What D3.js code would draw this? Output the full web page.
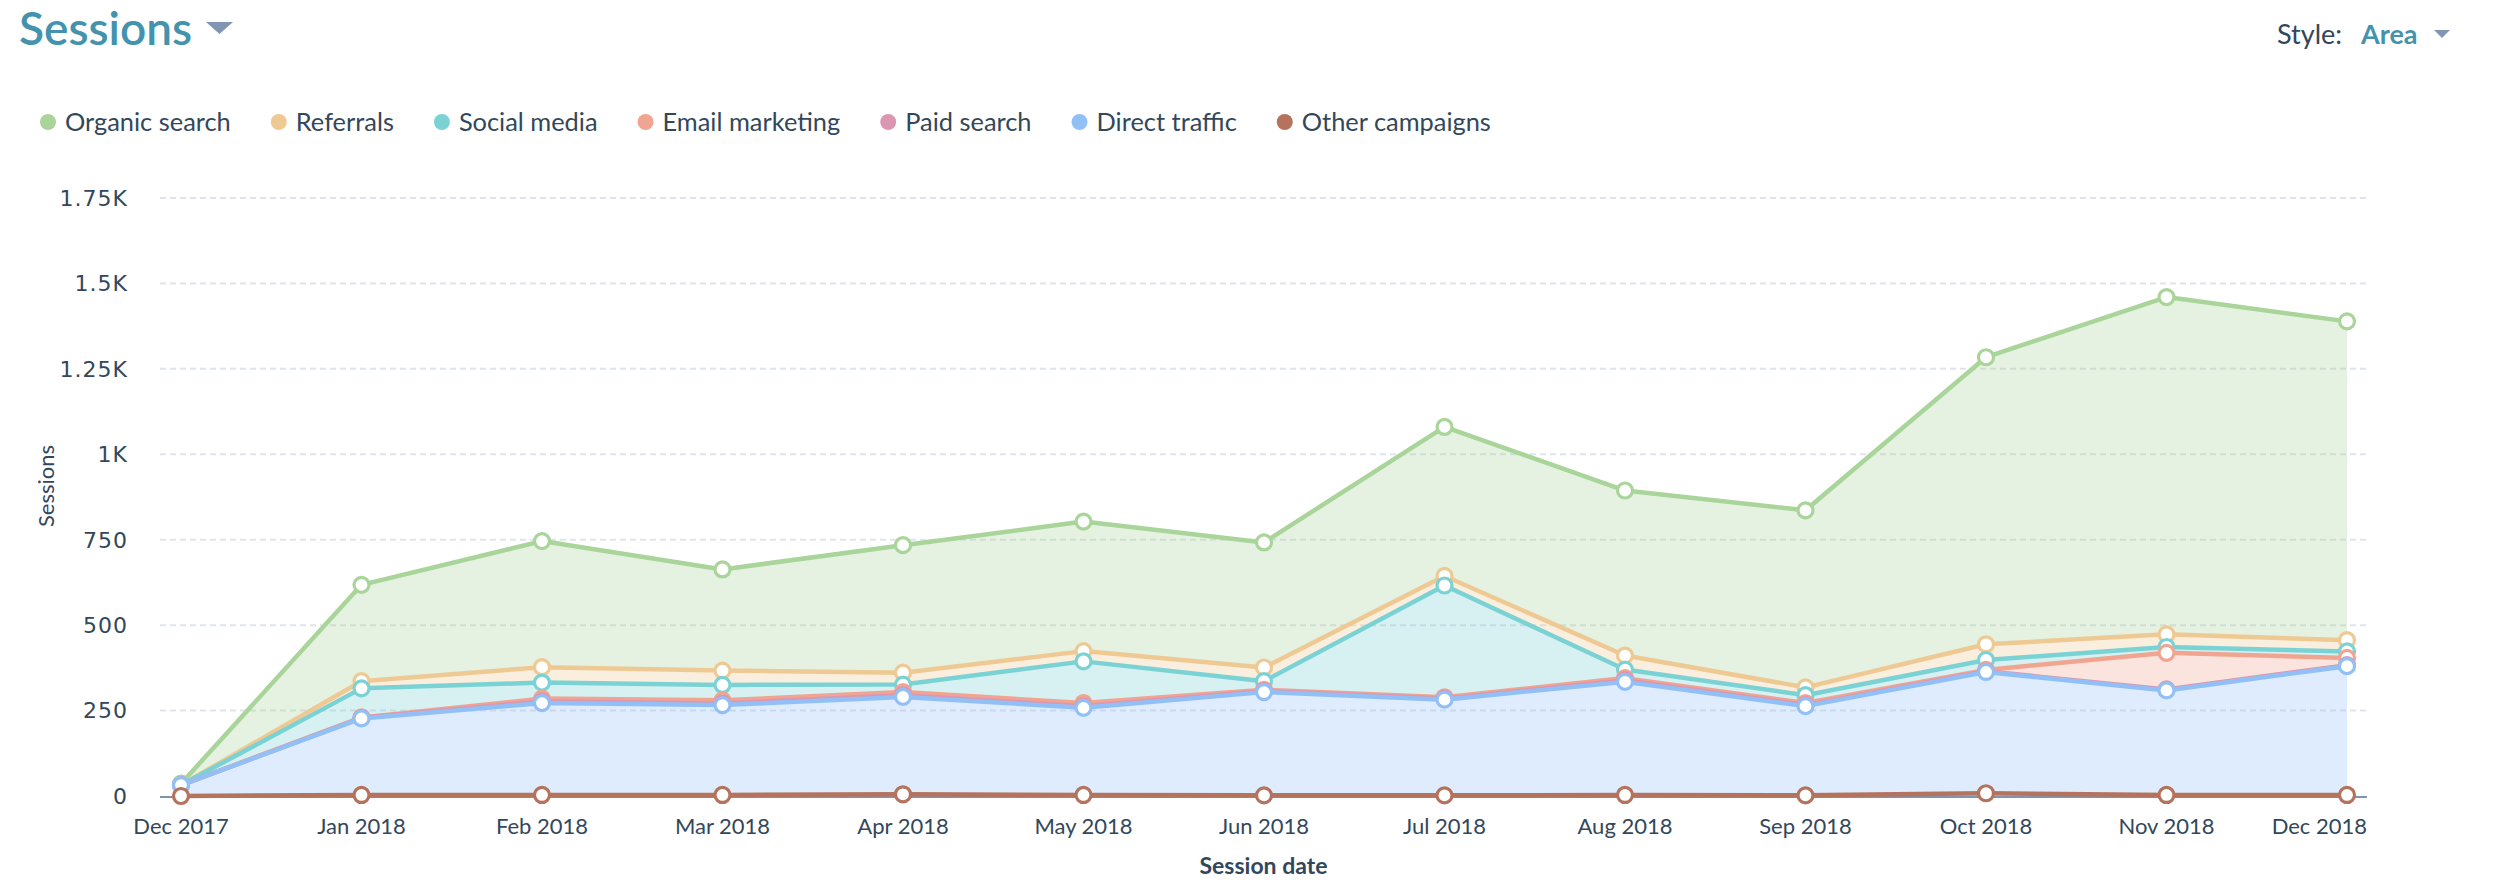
<!DOCTYPE html>
<html>
<head>
<meta charset="utf-8">
<script src="https://cdn.jsdelivr.net/npm/d3@7"></script>
<style>
  html, body { margin: 0; padding: 0; background: #fff; }
  svg { display: block; }
</style>
</head>
<body>
<svg id="chart" width="2496" height="896"></svg>
<script>
// ---- data ----
const months = ["Dec 2017","Jan 2018","Feb 2018","Mar 2018","Apr 2018","May 2018","Jun 2018","Jul 2018","Aug 2018","Sep 2018","Oct 2018","Nov 2018","Dec 2018"];
const seriesNames = ["Organic search","Referrals","Social media","Email marketing","Paid search","Direct traffic","Other campaigns"];
const seriesColors = ["#a9d49a","#efc993","#7bd2d5","#f1a591","#db97b2","#91c0f7","#b5725d"];
const organic   = [4, 282, 369, 296, 373, 379, 366, 436, 483, 518, 840, 987, 933];
const referrals = [0, 21, 45, 42, 35, 30, 40, 28, 41, 23, 46, 37, 33];
const social    = [0, 85, 47, 45, 22, 122, 25, 327, 25, 23, 29, 17, 19];
const email     = [0, 1, 8, 9, 9, 9, 4, 4, 6, 6, 4, 107, 21];
const paid      = [0, 2, 5, 5, 5, 5, 3, 3, 5, 3, 2, 3, 3];
const direct    = [32, 224, 269, 263, 285, 255, 302, 280, 331, 261, 355, 306, 377];
const other     = [0, 3, 3, 3, 5, 3, 2, 2, 3, 2, 8, 3, 3];
const yTicks = [0, 250, 500, 750, 1000, 1250, 1500, 1750];
const yTickLabels = ["0","250","500","750","1K","1.25K","1.5K","1.75K"];

const seriesValues = [organic, referrals, social, email, paid, direct, other];

// ---- layout ----
const svg = d3.select("#chart");
const plotLeft = 160, plotRight = 2367, plotTop = 198, plotBottom = 796;
const x = d3.scalePoint().domain(months).range([181, 2347]);
const y = d3.scaleLinear().domain([0, 1750]).range([plotBottom, plotTop]);
const textColor = "#33475b";

// table for stacking (stack order: bottom = Other campaigns ... top = Organic)
const table = months.map((m, i) => {
  const row = { month: m };
  seriesNames.forEach((s, k) => row[s] = seriesValues[k][i]);
  return row;
});
const stackKeys = seriesNames.slice().reverse();
const stacked = d3.stack().keys(stackKeys)(table);
const colorOf = name => seriesColors[seriesNames.indexOf(name)];

// ---- title ----
svg.append("text").attr("x", 19).attr("y", 45)
  .attr("font-family", "Lato, sans-serif").attr("font-size", 46).attr("font-weight", 600)
  .attr("fill", "#4393ae").text("Sessions");
svg.append("path").attr("d", "M206,22 L233,22 L219.5,34 Z").attr("fill", "#8196b3");

svg.append("text").attr("x", 2277).attr("y", 44)
  .attr("font-family", "Lato, sans-serif").attr("font-size", 27)
  .attr("fill", textColor).text("Style:");
svg.append("text").attr("x", 2361).attr("y", 44)
  .attr("font-family", "Lato, sans-serif").attr("font-size", 27).attr("font-weight", 700)
  .attr("fill", "#4393ae").text("Area");
svg.append("path").attr("d", "M2434,30 L2450,30 L2442,38 Z").attr("fill", "#8196b3");

// ---- legend ----
const legend = svg.append("g");
let lx = 48;
seriesNames.forEach((name, k) => {
  const g = legend.append("g");
  g.append("circle").attr("cx", lx).attr("cy", 122).attr("r", 8).attr("fill", seriesColors[k]);
  const t = g.append("text").attr("x", lx + 17).attr("y", 131)
    .attr("font-family", "Lato, sans-serif").attr("font-size", 25.4)
    .attr("fill", textColor).text(name);
  const w = t.node().getComputedTextLength();
  lx = lx + 17 + w + 48;
});

// ---- gridlines ----
const grid = svg.append("g");
yTicks.forEach((v, i) => {
  if (v !== 0) {
    grid.append("line").attr("x1", plotLeft).attr("x2", plotRight)
      .attr("y1", y(v)).attr("y2", y(v))
      .attr("stroke", "#dfe3eb").attr("stroke-width", 2).attr("stroke-dasharray", "6,4");
  }
  grid.append("text").attr("x", 128).attr("y", y(v)).attr("dy", "0.36em")
    .attr("text-anchor", "end").attr("font-family", "DejaVu Sans, sans-serif")
    .attr("font-size", 22).attr("letter-spacing", 1).attr("fill", textColor)
    .text(yTickLabels[i]);
});

// ---- areas ----
const area = d3.area().x((d, i) => x(months[i])).y0(d => y(d[0])).y1(d => y(d[1]));
const areas = svg.append("g");
stacked.slice().reverse().forEach(layer => {
  areas.append("path").attr("d", area(layer))
    .attr("fill", colorOf(layer.key)).attr("fill-opacity", 0.3);
});

// axis line
svg.append("line").attr("x1", plotLeft).attr("x2", plotRight)
  .attr("y1", plotBottom + 1).attr("y2", plotBottom + 1)
  .attr("stroke", "#8193ad").attr("stroke-width", 2);

// ---- lines + markers (top series drawn first, bottom series last) ----
const line = d3.line().x((d, i) => x(months[i])).y(d => y(d[1]));
stacked.slice().reverse().forEach(layer => {
  const c = colorOf(layer.key);
  const g = svg.append("g");
  g.append("path").attr("d", line(layer)).attr("fill", "none")
    .attr("stroke", c).attr("stroke-width", 4.5).attr("stroke-linejoin", "round");
  g.selectAll("circle").data(layer).join("circle")
    .attr("cx", (d, i) => x(months[i])).attr("cy", d => y(d[1]))
    .attr("r", 7.5).attr("fill", "#fff").attr("stroke", c).attr("stroke-width", 3.2);
});

// ---- x axis labels ----
const xl = svg.append("g");
months.forEach((m, i) => {
  const last = i === months.length - 1;
  xl.append("text").attr("x", last ? plotRight : x(m)).attr("y", 834)
    .attr("text-anchor", last ? "end" : "middle")
    .attr("font-family", "Lato, sans-serif").attr("font-size", 22)
    .attr("fill", textColor).text(m);
});

// axis titles
svg.append("text").attr("x", (plotLeft + plotRight) / 2).attr("y", 874)
  .attr("text-anchor", "middle").attr("font-family", "Lato, sans-serif")
  .attr("font-size", 23).attr("font-weight", 700).attr("fill", textColor).text("Session date");
svg.append("text").attr("transform", "translate(54,486) rotate(-90)")
  .attr("text-anchor", "middle").attr("font-family", "Lato, sans-serif")
  .attr("font-size", 22).attr("fill", textColor).text("Sessions");
</script>
</body>
</html>
